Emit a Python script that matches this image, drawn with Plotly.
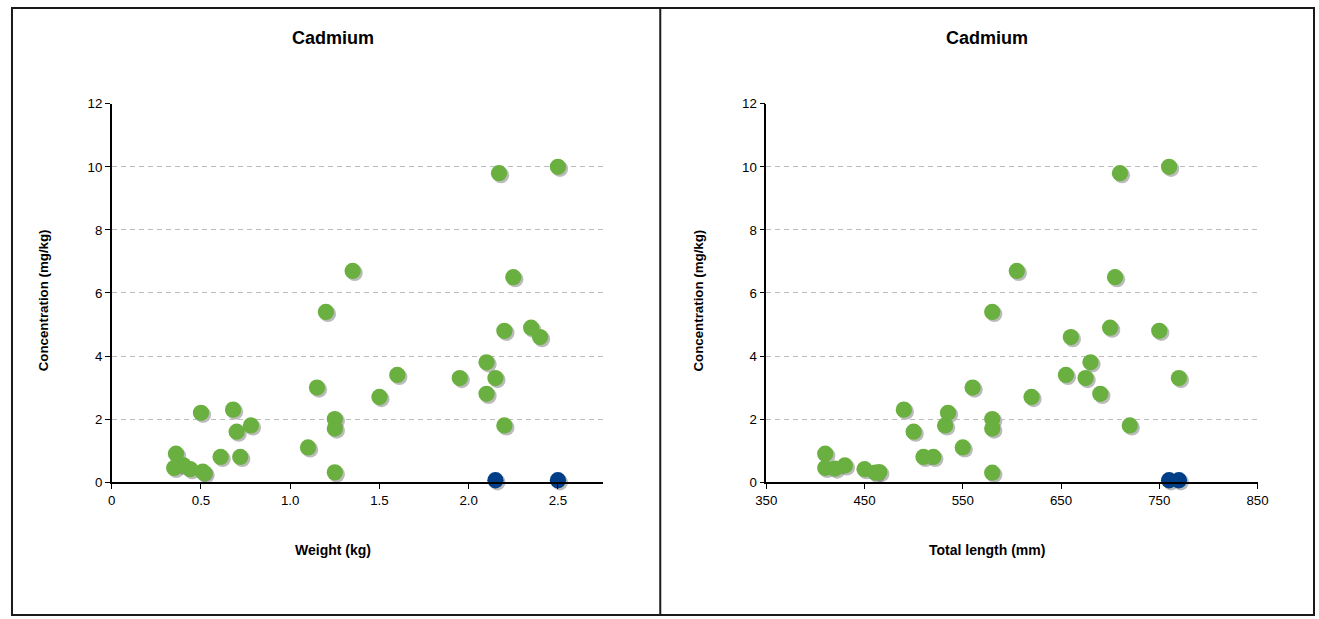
import plotly.graph_objects as go

# The photographed page shows the figure scaled by about (0.983, 0.975) and
# shifted by about (11, 7) px; layout positions below are taken from the
# reference picture and converted through that mapping.
SX, SY = 0.983, 0.975
BX, BY = 11.0, 7.0
W, H = 1325, 623

# ---- data ----
weight_green = [2.50, 2.17, 1.35, 2.25, 1.20, 2.20, 2.35, 2.40, 2.10, 1.60, 1.95, 2.15,
                1.15, 2.10, 1.50, 0.68, 0.50, 1.25, 1.25, 0.78, 0.70, 2.20, 1.10, 0.61,
                0.72, 0.36, 0.35, 0.40, 0.44, 0.51, 0.52, 1.25]
conc_w_green = [10.0, 9.8, 6.7, 6.5, 5.4, 4.8, 4.9, 4.6, 3.8, 3.4, 3.3, 3.3,
                3.0, 2.8, 2.7, 2.3, 2.2, 2.0, 1.7, 1.8, 1.6, 1.8, 1.1, 0.8,
                0.8, 0.9, 0.45, 0.54, 0.41, 0.33, 0.28, 0.31]
weight_blue = [2.15, 2.50]
conc_w_blue = [0.06, 0.06]

length_green = [760, 710, 605, 705, 580, 700, 750, 660, 680, 655, 675, 770,
                560, 690, 620, 490, 535, 580, 532, 720, 580, 500, 550, 510,
                520, 410, 410, 420, 430, 450, 461, 465, 580]
conc_l_green = [10.0, 9.8, 6.7, 6.5, 5.4, 4.9, 4.8, 4.6, 3.8, 3.4, 3.3, 3.3,
                3.0, 2.8, 2.7, 2.3, 2.2, 2.0, 1.8, 1.8, 1.7, 1.6, 1.1, 0.8,
                0.8, 0.9, 0.45, 0.43, 0.53, 0.41, 0.30, 0.32, 0.30]
length_blue = [760, 770]
conc_l_blue = [0.06, 0.06]

weight_ticks = [0, 0.5, 1.0, 1.5, 2.0, 2.5]
weight_ticklabels = ["0", "0.5", "1.0", "1.5", "2.0", "2.5"]
length_ticks = [350, 450, 550, 650, 750, 850]
conc_ticks = [0, 2, 4, 6, 8, 10, 12]

GREEN = "#6AB040"
BLUE = "#003F87"
SHADOW = "rgba(60,60,60,0.35)"
FONT = "Liberation Sans Narrow, Arial Narrow, Liberation Sans, Arial, sans-serif"


def px(x):
    f = (x - BX) / SX
    return min(max(f / W, 0.0), 1.0)


def py(y):
    f = (y - BY) / SY
    return min(max(1 - f / H, 0.0), 1.0)


fig = go.Figure()
msize = 16.3
SH = 2  # shadow offset in px

# subplot geometry (reference pixels)
L_X0, L_X1 = 111.7, 602.3
R_X0, R_X1 = 766.0, 1257.0
Y0, Y1 = 481.7, 103.7

fig.add_trace(go.Scatter(x=weight_green + weight_blue, y=conc_w_green + conc_w_blue,
                         mode="markers", marker=dict(color=SHADOW, size=msize, line=dict(width=0)),
                         xaxis="x", yaxis="y", cliponaxis=False, showlegend=False, hoverinfo="skip"))
fig.add_trace(go.Scatter(x=weight_green, y=conc_w_green, mode="markers",
                         marker=dict(color=GREEN, size=msize, line=dict(width=0)),
                         xaxis="x2", yaxis="y2", cliponaxis=False, showlegend=False))
fig.add_trace(go.Scatter(x=weight_blue, y=conc_w_blue, mode="markers",
                         marker=dict(color=BLUE, size=msize, line=dict(width=0)),
                         xaxis="x2", yaxis="y2", cliponaxis=False, showlegend=False))
fig.add_trace(go.Scatter(x=length_green + length_blue, y=conc_l_green + conc_l_blue,
                         mode="markers", marker=dict(color=SHADOW, size=msize, line=dict(width=0)),
                         xaxis="x3", yaxis="y3", cliponaxis=False, showlegend=False, hoverinfo="skip"))
fig.add_trace(go.Scatter(x=length_green, y=conc_l_green, mode="markers",
                         marker=dict(color=GREEN, size=msize, line=dict(width=0)),
                         xaxis="x4", yaxis="y4", cliponaxis=False, showlegend=False))
fig.add_trace(go.Scatter(x=length_blue, y=conc_l_blue, mode="markers",
                         marker=dict(color=BLUE, size=msize, line=dict(width=0)),
                         xaxis="x4", yaxis="y4", cliponaxis=False, showlegend=False))

tickfont = dict(family=FONT, size=13.3, color="#000")
y_dom = [py(Y0), py(Y1)]
y_dom_sh = [py(Y0 + SH), py(Y1 + SH)]

hidden = dict(visible=False, showgrid=False, zeroline=False, fixedrange=True)

common_x = dict(showline=True, linecolor="#000", linewidth=1.5, ticks="outside",
                ticklen=5, tickcolor="#000", tickwidth=1.2, showgrid=False,
                zeroline=False, tickfont=tickfont, fixedrange=True)
common_y = dict(showline=True, linecolor="#000", linewidth=1.5, ticks="outside",
                ticklen=5, tickcolor="#000", tickwidth=1.2, showgrid=True,
                gridcolor="#bdbdbd", gridwidth=1, griddash="5px,4px",
                zeroline=False, tickfont=tickfont, range=[0, 12],
                tickvals=conc_ticks, domain=y_dom, fixedrange=True)

fig.update_layout(
    width=W, height=H,
    margin=dict(l=0, r=0, t=0, b=0),
    paper_bgcolor="white", plot_bgcolor="rgba(0,0,0,0)",
    xaxis=dict(hidden, domain=[px(L_X0 + SH), px(L_X1 + SH)], range=[0, 2.75], anchor="y"),
    yaxis=dict(hidden, domain=y_dom_sh, range=[0, 12], anchor="x"),
    xaxis2=dict(common_x, domain=[px(L_X0), px(L_X1)], range=[0, 2.75],
                tickvals=weight_ticks, ticktext=weight_ticklabels, anchor="y2"),
    yaxis2=dict(common_y, anchor="x2"),
    xaxis3=dict(hidden, domain=[px(R_X0 + SH), px(R_X1 + SH)], range=[350, 850], anchor="y3"),
    yaxis3=dict(hidden, domain=y_dom_sh, range=[0, 12], anchor="x3"),
    xaxis4=dict(common_x, domain=[px(R_X0), px(R_X1)], range=[350, 850],
                tickvals=length_ticks, anchor="y4"),
    yaxis4=dict(common_y, anchor="x4"),
)

annots = [
    dict(text="<b>Cadmium</b>", x=333, y=38, size=18, angle=0),
    dict(text="<b>Cadmium</b>", x=987, y=38, size=18, angle=0),
    dict(text="<b>Weight (kg)</b>", x=333, y=549, size=14, angle=0),
    dict(text="<b>Total length (mm)</b>", x=987, y=549, size=14, angle=0),
    dict(text="<b>Concentration (mg/kg)</b>", x=43, y=300, size=13.3, angle=-90),
    dict(text="<b>Concentration (mg/kg)</b>", x=698, y=300, size=13.3, angle=-90),
]
for a in annots:
    fig.add_annotation(text=a["text"], x=px(a["x"]), y=py(a["y"]), xref="paper", yref="paper",
                       xanchor="center", yanchor="middle", showarrow=False,
                       textangle=a["angle"],
                       font=dict(family=FONT, size=a["size"], color="#000"))

border = dict(color="#1a1a1a", width=2)
fig.add_shape(type="rect", xref="paper", yref="paper",
              x0=1 / W, x1=px(1314), y0=py(615), y1=1 - 1 / H, line=border)
fig.add_shape(type="line", xref="paper", yref="paper",
              x0=px(660), x1=px(660), y0=py(615), y1=1 - 1 / H, line=border)

fig.write_html("out.html")
